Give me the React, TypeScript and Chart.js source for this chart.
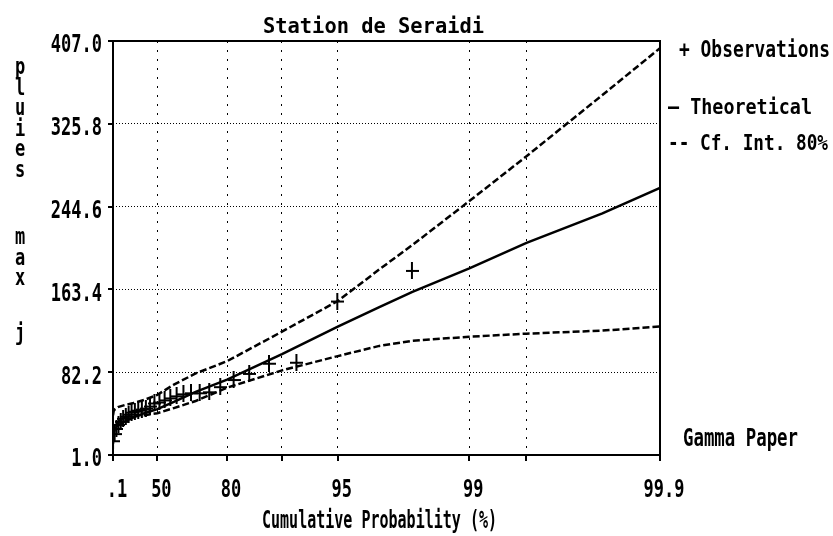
import React, { useEffect, useRef } from 'react';
import { Chart, registerables } from 'chart.js';

Chart.register(...registerables);

// ---------- text ----------
const TITLE = 'Station de Seraidi';
const X_TITLE = 'Cumulative Probability (%)';
const Y_TITLE_WORDS = ['pluies', 'max', 'j'];
const PAPER_LABEL = 'Gamma Paper';
const LEGEND_LABELS = ['+ Observations', '\u2014 Theoretical', '-- Cf. Int. 80%'];

// ---------- axes ----------
const X_TICK_PROBS = [0.1, 50, 80, 90, 95, 99, 99.5, 99.9]; // %
const X_TICK_LABELS = ['.1', '50', '80', '', '95', '99', '', '99.9'];
const Y_TICKS = [1.0, 82.2, 163.4, 244.6, 325.8, 407.0];
const Y_TICK_LABELS = ['1.0', '82.2', '163.4', '244.6', '325.8', '407.0'];

// ---------- fitted curves (probability in %) ----------
const CURVE_PROBS = [0.1, 2, 5, 10, 20, 30, 40, 50, 60, 70, 80, 90, 95, 97, 98, 99, 99.5, 99.8, 99.9];
const THEORETICAL = [18, 24, 27, 30, 34, 38, 42, 46, 53, 63, 75, 100, 127, 146, 161, 184, 209, 238, 263];
const UPPER_CI = [40, 44, 46, 48, 50, 52, 55, 60, 70, 81, 93, 122, 152, 183, 207, 250, 294, 354, 400];
const LOWER_CI = [12, 22, 28, 33, 38, 40, 40, 42, 47, 54, 67, 84, 98, 108, 113, 117, 120, 123, 127];

// ---------- observations ----------
const OBS_PROBS = [1.7, 5, 8.3, 11.7, 15, 18.3, 21.7, 25, 28.3, 31.7, 35, 38.3, 41.7, 45, 48.3,
  51.7, 55, 58.3, 61.7, 65, 68.3, 71.7, 75, 78.3, 81.7, 85, 88.3, 91.7, 95, 98];
const OBS_VALUES = [15, 22, 27, 31, 34, 37, 39, 41, 43, 44, 45, 46, 47, 49, 52,
  53, 55, 57, 59, 61, 62, 62, 63, 68, 75, 81, 91, 92, 152, 182];

// ---------- gamma probability paper ----------
const SHAPE = 0.82;

function lnGamma(z: number): number {
  const c = [0.99999999999980993, 676.5203681218851, -1259.1392167224028, 771.32342877765313,
    -176.61502916214059, 12.507343278686905, -0.13857109526572012, 9.9843695780195716e-6, 1.5056327351493116e-7];
  if (z < 0.5) return Math.log(Math.PI / Math.sin(Math.PI * z)) - lnGamma(1 - z);
  z -= 1;
  let x = c[0];
  for (let i = 1; i < 9; i++) x += c[i] / (z + i);
  const t = z + 7.5;
  return 0.5 * Math.log(2 * Math.PI) + (z + 0.5) * Math.log(t) - t + Math.log(x);
}

function gammaP(a: number, x: number): number {
  if (x <= 0) return 0;
  const lpre = -x + a * Math.log(x) - lnGamma(a);
  if (x < a + 1) {
    let ap = a, sum = 1 / a, term = sum;
    for (let n = 0; n < 1000; n++) {
      ap += 1; term *= x / ap; sum += term;
      if (Math.abs(term) < Math.abs(sum) * 1e-15) break;
    }
    return sum * Math.exp(lpre);
  }
  let b = x + 1 - a, c = 1e300, d = 1 / b, h = d;
  for (let i = 1; i < 1000; i++) {
    const an = -i * (i - a);
    b += 2;
    d = an * d + b; if (Math.abs(d) < 1e-300) d = 1e-300;
    c = b + an / c; if (Math.abs(c) < 1e-300) c = 1e-300;
    d = 1 / d;
    const del = d * c;
    h *= del;
    if (Math.abs(del - 1) < 1e-15) break;
  }
  return 1 - Math.exp(lpre) * h;
}

function toPaper(pct: number): number {
  const p = pct / 100;
  let lo = 0, hi = 80;
  for (let i = 0; i < 200; i++) {
    const mid = (lo + hi) / 2;
    if (gammaP(SHAPE, mid) < p) lo = mid; else hi = mid;
  }
  return (lo + hi) / 2;
}

// ---------- drawing helpers ----------
const FONT = '"DejaVu Sans Mono", "Liberation Mono", monospace';

function fitText(ctx: CanvasRenderingContext2D, s: string, x0: number, x1: number, cy: number, capH: number, weight = 'normal') {
  const size = capH / 0.73;
  ctx.save();
  ctx.font = `${weight} ${size}px ${FONT}`;
  const w = ctx.measureText(s).width;
  ctx.translate(x0, cy + capH / 2);
  ctx.scale((x1 - x0) / w, 1);
  ctx.textAlign = 'left';
  ctx.textBaseline = 'alphabetic';
  ctx.fillStyle = '#000';
  ctx.fillText(s, 0, 0);
  ctx.restore();
}

function tallText(ctx: CanvasRenderingContext2D, s: string, x: number, cy: number, align: CanvasTextAlign, size: number, sy: number, weight = 'bold') {
  ctx.save();
  ctx.translate(x, cy + (0.73 * size * sy) / 2);
  ctx.scale(1, sy);
  ctx.font = `${weight} ${size}px ${FONT}`;
  ctx.textAlign = align;
  ctx.textBaseline = 'alphabetic';
  ctx.fillStyle = '#000';
  ctx.fillText(s, 0, 0);
  ctx.restore();
}

function makeCross(): HTMLCanvasElement {
  const c = document.createElement('canvas');
  c.width = 13; c.height = 17;
  const g = c.getContext('2d')!;
  g.fillStyle = '#000';
  g.fillRect(5, 0, 2, 17);
  g.fillRect(0, 8, 13, 2);
  return c;
}

const decorPlugin = {
  id: 'decor',
  afterDraw(chart: any) {
    const { ctx, chartArea: a, scales } = chart;
    const xs = scales.x, ys = scales.y;
    ctx.save();
    ctx.strokeStyle = '#000';
    ctx.lineWidth = 2;
    ctx.setLineDash([]);
    ctx.strokeRect(a.left, a.top, a.right - a.left, a.bottom - a.top);
    ctx.beginPath();
    Y_TICKS.forEach((v) => {
      const y = Math.round(ys.getPixelForValue(v));
      ctx.moveTo(a.left - 5, y); ctx.lineTo(a.left, y);
    });
    X_TICK_PROBS.forEach((p) => {
      const x = Math.round(xs.getPixelForValue(toPaper(p)));
      ctx.moveTo(x, a.bottom); ctx.lineTo(x, a.bottom + 6);
    });
    ctx.stroke();
    ctx.restore();

    Y_TICKS.forEach((v, i) => {
      tallText(ctx, Y_TICK_LABELS[i], 102, ys.getPixelForValue(v) + 2, 'right', 17, 1.5);
    });
    X_TICK_PROBS.forEach((p, i) => {
      if (!X_TICK_LABELS[i]) return;
      tallText(ctx, X_TICK_LABELS[i], xs.getPixelForValue(toPaper(p)) + 4, 488, 'center', 17, 1.5);
    });

    fitText(ctx, TITLE, 263, 484, 25, 15, 'bold');
    fitText(ctx, X_TITLE, 262, 497, 519, 18, 'bold');
    fitText(ctx, PAPER_LABEL, 683, 798, 437, 18, 'bold');

    const starts = [67, 237, 333];
    Y_TITLE_WORDS.forEach((w, wi) => {
      for (let k = 0; k < w.length; k++) {
        ctx.save();
        const cy = starts[wi] + k * 20.6;
        ctx.translate(20, cy + 7);
        ctx.scale(1, 1.4);
        ctx.font = `bold 17px ${FONT}`;
        ctx.textAlign = 'center';
        ctx.textBaseline = 'alphabetic';
        ctx.fillStyle = '#000';
        ctx.fillText(w[k], 0, 0);
        ctx.restore();
      }
    });

    fitText(ctx, LEGEND_LABELS[0], 679, 830, 48, 17, 'bold');
    fitText(ctx, LEGEND_LABELS[1], 668, 812, 106, 16, 'bold');
    fitText(ctx, LEGEND_LABELS[2], 668, 828, 142, 16, 'bold');
  },
};

export default function App() {
  const ref = useRef<HTMLCanvasElement>(null);
  useEffect(() => {
    document.body.style.margin = '0';
    const canvas = ref.current!;
    const xTicks = X_TICK_PROBS.map(toPaper);
    const curve = (vals: number[]) => CURVE_PROBS.map((p, i) => ({ x: toPaper(p), y: vals[i] }));
    const obs = OBS_PROBS.map((p, i) => ({ x: toPaper(p), y: OBS_VALUES[i] }));
    const cross = makeCross();

    const chart = new Chart(canvas, {
      type: 'scatter',
      data: {
        datasets: [
          {
            label: 'Observations', data: obs, showLine: false,
            pointStyle: cross as any, pointRadius: 7, borderColor: '#000', backgroundColor: '#000',
          },
          {
            label: 'Theoretical', data: curve(THEORETICAL), showLine: true, pointRadius: 0,
            borderColor: '#000', borderWidth: 2.5, tension: 0,
          },
          {
            label: 'Cf. Int. 80% (upper)', data: curve(UPPER_CI), showLine: true, pointRadius: 0,
            borderColor: '#000', borderWidth: 2.5, borderDash: [7, 3], tension: 0,
          },
          {
            label: 'Cf. Int. 80% (lower)', data: curve(LOWER_CI), showLine: true, pointRadius: 0,
            borderColor: '#000', borderWidth: 2.5, borderDash: [7, 3], tension: 0,
          },
        ],
      },
      options: {
        responsive: false,
        animation: false,
        devicePixelRatio: 1,
        layout: { padding: { left: 113, right: 833 - 660, top: 41, bottom: 536 - 455 } },
        plugins: { legend: { display: false }, title: { display: false }, tooltip: { enabled: false } },
        scales: {
          x: {
            type: 'linear', min: 0, max: toPaper(99.9),
            afterBuildTicks: (s: any) => { s.ticks = xTicks.map((v) => ({ value: v })); },
            afterFit: (s: any) => { s.height = 0; },
            ticks: { display: false },
            grid: { color: '#000', lineWidth: 1, drawTicks: false },
            border: { display: false, dash: [2, 7] },
          },
          y: {
            type: 'linear', min: 1, max: 407,
            afterBuildTicks: (s: any) => { s.ticks = Y_TICKS.map((v) => ({ value: v })); },
            afterFit: (s: any) => { s.width = 0; },
            ticks: { display: false },
            grid: { color: '#000', lineWidth: 1, drawTicks: false },
            border: { display: false, dash: [1, 2] },
          },
        },
      },
      plugins: [decorPlugin],
    } as any);
    return () => chart.destroy();
  }, []);

  return (
    <div style={{ position: 'absolute', left: 0, top: 0, width: 833, height: 536, background: '#fff' }}>
      <canvas ref={ref} width={833} height={536} style={{ width: 833, height: 536, display: 'block' }} />
    </div>
  );
}
